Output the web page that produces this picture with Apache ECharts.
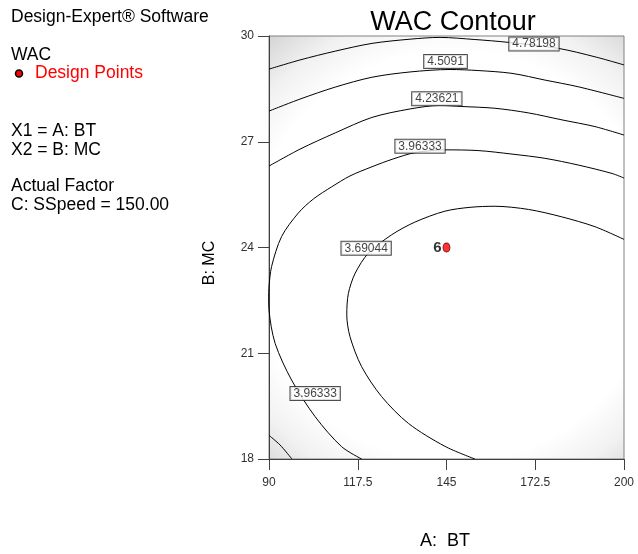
<!DOCTYPE html>
<html>
<head>
<meta charset="utf-8">
<script src="https://cdn.jsdelivr.net/npm/echarts@6/dist/echarts.min.js"></script>
<style>html,body{margin:0;padding:0;background:#fff;}#c{width:638px;height:554px;}</style>
</head>
<body>
<div id="c"></div>
<script>
// ---- data ----
const xTicks = [90, 117.5, 145, 172.5, 200];
const yTicks = [18, 21, 24, 27, 30];

const contour478 = [[90,29.06],[99.6,29.32],[110.5,29.57],[121.9,29.79],[133.7,29.91],[143.0,29.96],[153.8,29.90],[164.1,29.82],[179.6,29.65],[191.0,29.41],[200,29.18]];
const contour451 = [[90,27.87],[99.6,28.21],[110.5,28.55],[121.9,28.83],[133.7,28.98],[146.1,29.05],[154.8,29.02],[165.3,28.94],[175.5,28.75],[185.8,28.56],[200,28.23]];
const contour424 = [[90,26.31],[99.6,26.79],[110.5,27.25],[121.9,27.69],[133.7,27.93],[143.0,28.03],[149.8,28.00],[160.0,27.95],[170.3,27.82],[180.8,27.62],[191.0,27.43],[200,27.19]];
const contour396 = [[200,25.97],[196.3,26.10],[185.8,26.34],[175.5,26.53],[165.3,26.65],[154.8,26.75],[144.5,26.77],[135.2,26.69],[128.4,26.51],[121.9,26.29],[115.1,26.03],[109.4,25.72],[103.8,25.38],[99.1,24.98],[93.9,24.31],[90.8,23.46],[90.0,22.88],[89.9,22.57],[90.0,22.23],[91.9,21.28],[97.0,20.24],[104.3,19.20],[112.5,18.35],[118.7,18.0]];
const contour369 = [[200,24.23],[191.0,24.59],[180.7,24.87],[170.4,25.08],[160.0,25.17],[152.3,25.14],[144.5,25.03],[135.2,24.72],[128.0,24.36],[120.8,23.84],[116.7,23.27],[114.6,22.70],[114.1,22.09],[115.1,21.47],[118.7,20.62],[124.9,19.77],[133.2,19.01],[144.5,18.36],[153.8,18.0]];
const contour424b = [[90,18.67],[93.4,18.40],[97.1,18.0]];

const contourLabels = [
  {value:[172.1,29.77], name:'4.78198'},
  {value:[144.7,29.28], name:'4.5091'},
  {value:[142.0,28.22], name:'4.23621'},
  {value:[136.8,26.87], name:'3.96333'},
  {value:[120.1,23.98], name:'3.69044'},
  {value:[104.3,19.86], name:'3.96333'}
];
const designPoints = [{value:[145,24], name:'6'}];

const sideText = [
  ['Design-Expert® Software', 17, '#000'],
  ['WAC', 55, '#000'],
  ['Design Points', 73.5, '#ff0000'],
  ['X1 = A: BT', 131.5, '#000'],
  ['X2 = B: MC', 150, '#000'],
  ['Actual Factor', 186.5, '#000'],
  ['C: SSpeed = 150.00', 205, '#000']
];

// ---- chart ----
const FONT = 'Arial, "Liberation Sans", sans-serif';
const chart = echarts.init(document.getElementById('c'), null, {renderer:'canvas'});

function contourSeries(data){
  return {type:'line', data:data, smooth:0.3, symbol:'none', silent:true, clip:true,
    lineStyle:{color:'#000', width:1}, z:3};
}

const graphics = sideText.map(function(t, i){
  return {type:'text', left: (i===2 ? 35 : 11), top: t[1]-9,
    style:{text:t[0], fill:t[2], font:'17.5px ' + FONT}};
});
graphics.push({type:'circle', shape:{cx:19, cy:73.5, r:3.5}, style:{fill:'#ff0000', stroke:'#000', lineWidth:1.5}});
graphics.push({type:'text', x:210, y:263, rotation:Math.PI/2,
  style:{text:'B: MC', fill:'#000', font:'16px ' + FONT, align:'center', verticalAlign:'middle'}});
graphics.push({type:'text', x:445, y:541,
  style:{text:'A:  BT', fill:'#000', font:'18px ' + FONT, align:'center', verticalAlign:'middle'}});

chart.setOption({
  animation:false,
  backgroundColor:'#fff',
  title:{text:'WAC Contour', left:448, top:4, textAlign:'center',
    textStyle:{fontFamily:FONT, fontSize:27, fontWeight:'normal', color:'#000'}},
  grid:{left:269, top:36, width:355, height:423, show:true, borderColor:'#808080', borderWidth:1,
    backgroundColor:new echarts.graphic.RadialGradient(0.52, 0.52, 0.8, [
      {offset:0, color:'#ffffff'}, {offset:0.72, color:'#ffffff'},
      {offset:0.86, color:'#f1f1f1'}, {offset:1, color:'#d6d6d6'}])},
  xAxis:{type:'value', min:90, max:200,
    axisLine:{show:true, onZero:false, lineStyle:{color:'#404040', width:1}},
    axisTick:{show:true, length:11, customValues:xTicks, lineStyle:{color:'#404040'}},
    axisLabel:{customValues:xTicks, color:'#303030', fontSize:12, fontFamily:FONT, margin:18,
      formatter:function(v){return String(v);}},
    splitLine:{show:false}},
  yAxis:{type:'value', min:18, max:30,
    axisLine:{show:true, onZero:false, lineStyle:{color:'#404040', width:1}},
    axisTick:{show:true, length:11, customValues:yTicks, lineStyle:{color:'#404040'}},
    axisLabel:{customValues:yTicks, color:'#303030', fontSize:12, fontFamily:FONT, margin:15},
    splitLine:{show:false}},
  graphic:graphics,
  series:[
    contourSeries(contour478),
    contourSeries(contour451),
    contourSeries(contour424),
    contourSeries(contour396),
    contourSeries(contour369),
    contourSeries(contour424b),
    {type:'scatter', data:contourLabels, symbol:'rect', symbolSize:1, silent:true, z:5,
      itemStyle:{color:'rgba(0,0,0,0)'},
      label:{show:true, position:'inside', formatter:'{b}', color:'#111', fontSize:12, fontFamily:FONT,
        backgroundColor:'#fff', borderColor:'#222', borderWidth:1, padding:[1,3,0,3], lineHeight:12}},
    {type:'scatter', data:designPoints, symbol:'circle', symbolSize:[7,9], z:6,
      itemStyle:{color:'#ff0000', borderColor:'#500000', borderWidth:1},
      label:{show:true, position:'left', distance:1, formatter:'{b}', color:'#000', fontSize:15,
        fontWeight:'bold', fontFamily:FONT}}
  ]
});
</script>
</body>
</html>
